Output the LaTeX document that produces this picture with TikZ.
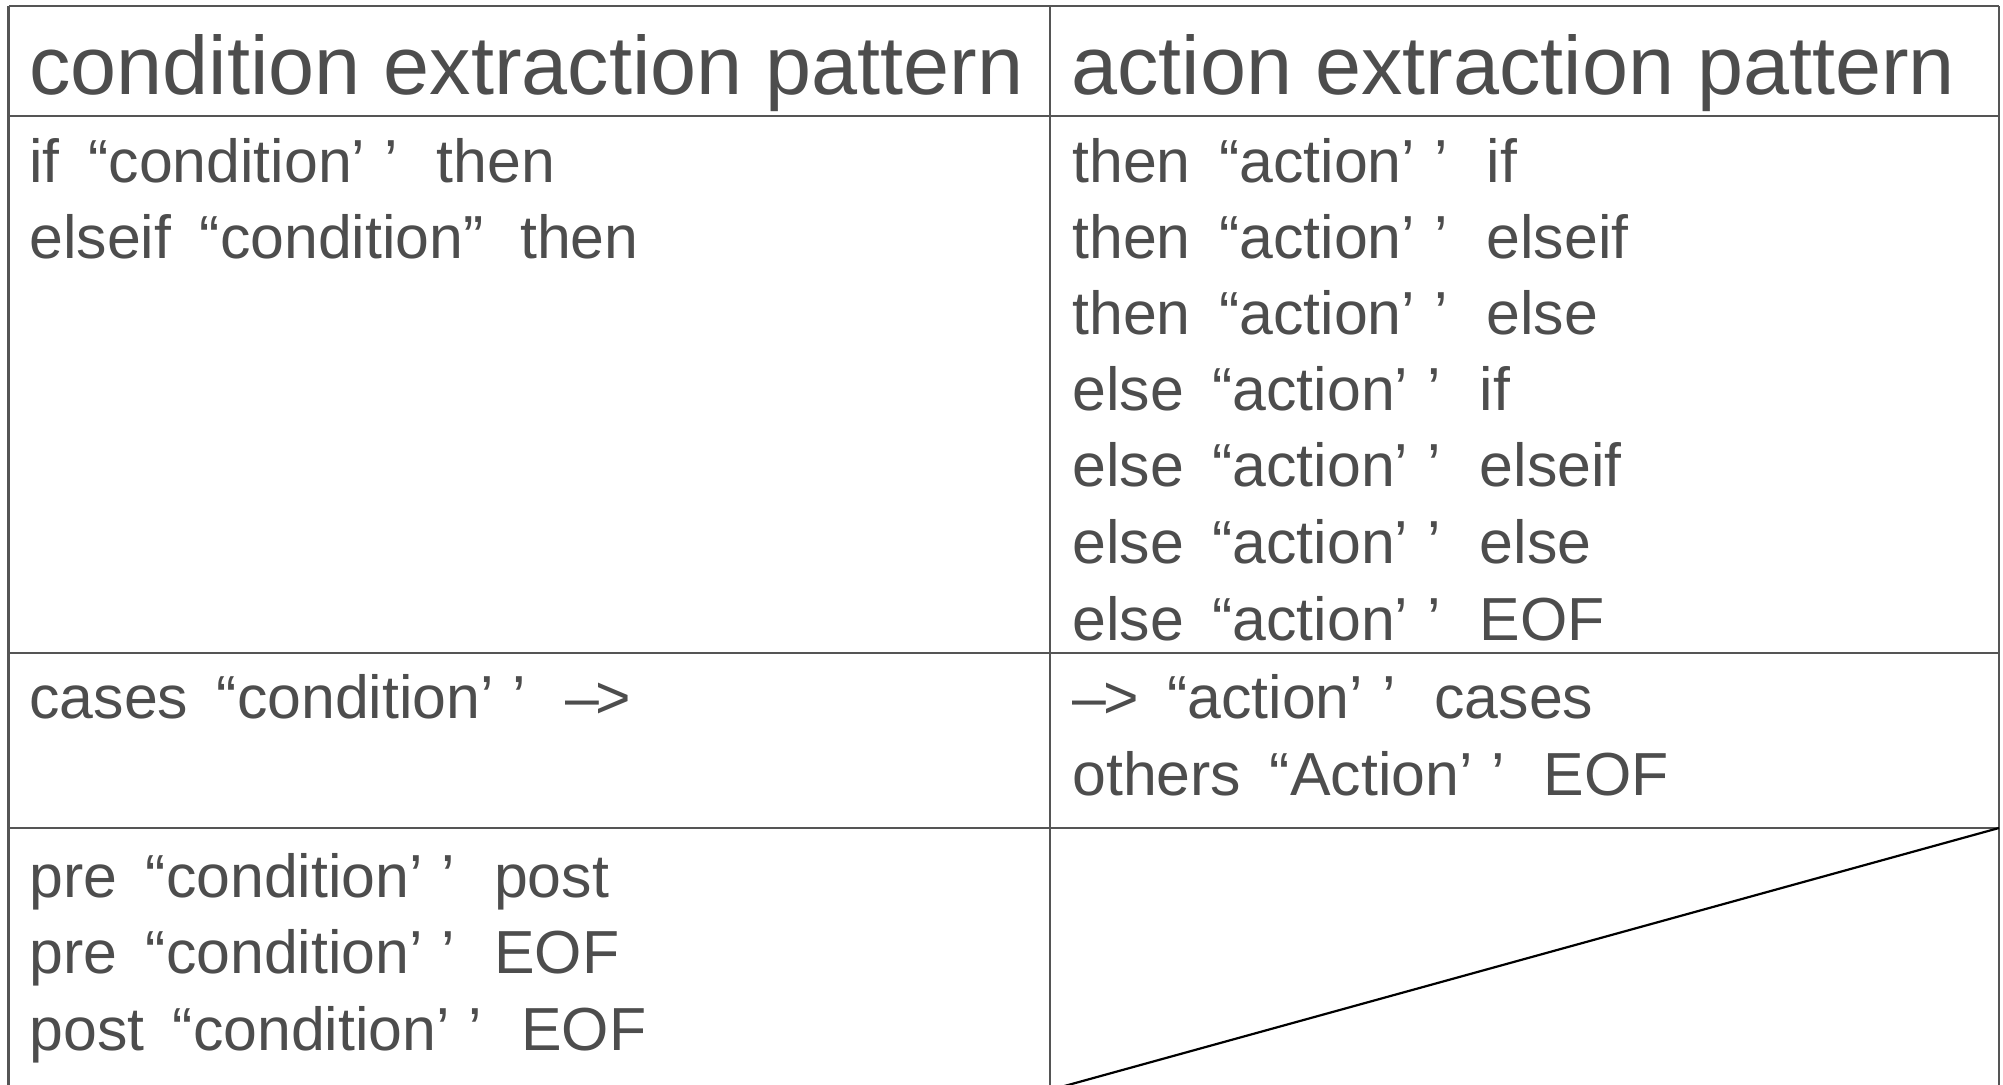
\documentclass[tikz,border=0pt]{standalone}
\usepackage{fontspec}
\setmainfont{Liberation Sans}
\definecolor{txt}{HTML}{4D4D4D}
\definecolor{rulecol}{HTML}{555555}
\newcommand{\OQ}{\hspace{0.47em}“}
\newcommand{\CQ}{’\hspace{0.31em}’\hspace{0.64em}}
\newcommand{\CDQ}{”\hspace{0.6em}}
\newcommand{\ARR}{–\hspace{-0.05em}>}
\begin{document}
\begin{tikzpicture}[x=0.5pt,y=-0.5pt,
  head/.style={anchor=base west,inner sep=0pt,text=txt,font=\fontsize{41.4pt}{48pt}\selectfont},
  body/.style={anchor=base west,inner sep=0pt,text=txt,font=\fontsize{30.4pt}{36pt}\selectfont},
  gridline/.style={draw=rulecol,line width=1.15pt},
  diag/.style={draw=black,line width=1.1pt}]
\useasboundingbox (0,0) rectangle (2003,1085);
\begin{scope}
\clip (0,0) rectangle (2003,1085);
% grid
\coordinate (TL) at (8.5,6);
\coordinate (TR) at (1999,6);
\draw[gridline] (8.5,6) -- (1999,6);
\draw[gridline] (8.5,116) -- (1999,116);
\draw[gridline] (8.5,653) -- (1999,653);
\draw[gridline] (8.5,828) -- (1999,828);
\draw[gridline] (8.5,6) -- (8.5,1090);
\draw[gridline] (1050,6) -- (1050,1090);
\draw[gridline] (1999,6) -- (1999,1090);
\coordinate (dA) at (1999,828);
\coordinate (dB) at (1050,1090);
\draw[diag] (dA) -- (dB);
\end{scope}
% header
\node[head] (h1) at (29,95) {condition extraction pattern};
\node[head] (h2) at (1071,95) {action extraction pattern};
% left column
\node[body] (l1) at (29,183) {if\OQ condition\CQ then};
\node[body] (l2) at (29,259) {elseif\OQ condition\CDQ then};
\node[body] (l3) at (29,718) {cases\OQ condition\CQ \ARR};
\node[body] (l4) at (29,897) {pre\OQ condition\CQ post};
\node[body] (l5) at (29,973) {pre\OQ condition\CQ EOF};
\node[body] (l6) at (29,1050) {post\OQ condition\CQ EOF};
% right column
\node[body] (r1) at (1072,183) {then\OQ action\CQ if};
\node[body] (r2) at (1072,259) {then\OQ action\CQ elseif};
\node[body] (r3) at (1072,335) {then\OQ action\CQ else};
\node[body] (r4) at (1072,411) {else\OQ action\CQ if};
\node[body] (r5) at (1072,487) {else\OQ action\CQ elseif};
\node[body] (r6) at (1072,563) {else\OQ action\CQ else};
\node[body] (r7) at (1072,640) {else\OQ action\CQ EOF};
\node[body] (r8) at (1072,718) {\ARR\OQ action\CQ cases};
\node[body] (r9) at (1072,795) {others\OQ Action\CQ EOF};
\end{tikzpicture}
\end{document}
